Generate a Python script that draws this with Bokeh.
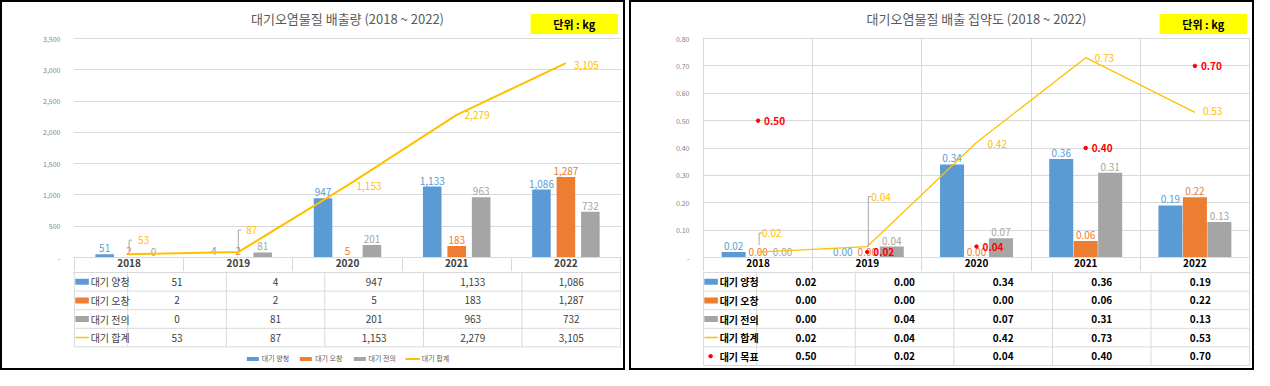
from bokeh.plotting import figure
from bokeh.layouts import column, row
from bokeh.models import (Range1d, FixedTicker, NumeralTickFormatter, ColumnDataSource,
                          Legend, LegendItem)
from bokeh.core.properties import value
from bokeh.embed import file_html
from bokeh.resources import INLINE

FONT = "Noto Sans CJK KR"

# ---------------- data ----------------
years = ["2018", "2019", "2020", "2021", "2022"]
site_names = ["대기 양청", "대기 오창", "대기 전의"]
total_name = "대기 합계"
target_name = "대기 목표"

em_yangcheong = [51, 4, 947, 1133, 1086]
em_ochang = [2, 2, 5, 183, 1287]
em_jeonui = [0, 81, 201, 963, 732]
em_total = [53, 87, 1153, 2279, 3105]
em_ticks = [0, 500, 1000, 1500, 2000, 2500, 3000, 3500]

in_yangcheong = [0.02, 0.00, 0.34, 0.36, 0.19]
in_ochang = [0.00, 0.00, 0.00, 0.06, 0.22]
in_jeonui = [0.00, 0.04, 0.07, 0.31, 0.13]
in_total = [0.02, 0.04, 0.42, 0.73, 0.53]
in_target = [0.50, 0.02, 0.04, 0.40, 0.70]
in_ticks = [0, 0.1, 0.2, 0.3, 0.4, 0.5, 0.6, 0.7, 0.8]

title_em = "대기오염물질 배출량 (2018 ~ 2022)"
title_in = "대기오염물질 배출 집약도 (2018 ~ 2022)"
unit_text = "단위 : kg"

# ---------------- style ----------------
BLUE, ORANGE, GRAY, GOLD, RED = "#5B9BD5", "#ED7D31", "#A5A5A5", "#FFC000", "#FF0000"
GRID = "#D9D9D9"
TXT = "#404040"

W = 621          # inner panel width
K = 109.2        # pixels per category
HDR_H = 32
CH_TOP = 3
RANGE_PX = 219
AX_H = 14        # header row (year labels) height
CH_H = CH_TOP + RANGE_PX + 1 + AX_H
TB_H = 366 - HDR_H - CH_H
RH = 18.6        # table row height
n_cat = len(years)
centers = [i + 0.5 for i in range(n_cat)]


def fmt_int(v):
    return "{:,}".format(v)


def fmt_2(v):
    return "{:.2f}".format(v)


def make_header(title):
    p = figure(width=W, height=HDR_H, x_range=Range1d(0, W), y_range=Range1d(0, HDR_H),
               min_border=0, x_axis_location=None, y_axis_location=None,
               output_backend="svg", toolbar_location=None)
    p.grid.visible = False
    p.outline_line_color = None
    p.text(x=[W / 2], y=[16], text=[title], text_align="center", text_baseline="middle",
           text_font=value(FONT), text_font_size="13px", text_color="#595959")
    p.quad(left=[W - 103], right=[W - 4], bottom=[0.5], top=[20.5],
           fill_color="#FFFF00", line_color=None)
    p.text(x=[W - 53.5], y=[10.5], text=[unit_text], text_align="center", text_baseline="middle",
           text_font=value(FONT), text_font_size="11px", text_font_style="bold", text_color="#000000")
    return p


def make_chart(ymax, ticks, tick_fmt, fmt, bars, total, tot_dx, tot_dy, leaders,
               bar_w, bar_dx, line_w, vbox, year_color, target=None):
    upp = ymax / RANGE_PX
    p = figure(width=W, height=CH_H, x_range=Range1d(-1 / K, n_cat + 1 / K),
               y_range=Range1d(0, ymax + upp),
               min_border_left=71, min_border_right=2, min_border_top=CH_TOP, min_border_bottom=AX_H,
               x_axis_location="below", output_backend="svg", toolbar_location=None)
    p.outline_line_color = None
    ax = p.yaxis[0]
    ax.ticker = FixedTicker(ticks=ticks)
    ax.formatter = NumeralTickFormatter(format=tick_fmt)
    ax.major_label_overrides = {0: "-"}
    ax.axis_line_color = None
    ax.major_tick_line_color = None
    ax.minor_tick_line_color = None
    ax.major_label_standoff = 7
    ax.major_label_text_font = FONT
    ax.major_label_text_font_size = "7px"
    ax.major_label_text_color = "#7F7F7F"

    xa = p.xaxis[0]
    xa.ticker = FixedTicker(ticks=centers, minor_ticks=list(range(n_cat + 1)))
    xa.major_label_overrides = {c: y for c, y in zip(centers, years)}
    xa.axis_line_color = GRID
    xa.major_tick_line_color = None
    xa.minor_tick_line_color = GRID
    xa.minor_tick_in = 0
    xa.minor_tick_out = AX_H
    xa.major_tick_out = 0
    xa.major_label_standoff = 1 - AX_H
    xa.major_label_text_font = FONT
    xa.major_label_text_font_size = "10px"
    xa.major_label_text_font_style = "bold"
    xa.major_label_text_color = year_color

    p.ygrid.grid_line_color = GRID
    if vbox:
        p.xgrid.ticker = FixedTicker(ticks=list(range(n_cat + 1)))
        p.xgrid.grid_line_color = GRID
    else:
        p.xgrid.visible = False

    cols = [BLUE, ORANGE, GRAY]
    for k, (vals, c) in enumerate(zip(bars, cols)):
        dx = (k - 1) * bar_dx
        src = ColumnDataSource(dict(x=[x + dx for x in centers], top=vals,
                                    lab=[fmt(v) for v in vals]))
        p.vbar(x="x", top="top", width=bar_w, source=src, fill_color=c, line_color=None)
        p.text(x="x", y="top", text="lab", source=src, text_align="center",
               text_baseline="alphabetic", y_offset=-6, text_color=c,
               text_font=value(FONT), text_font_size="10px")

    p.line(x=centers, y=total, line_color=GOLD, line_width=line_w)
    tsrc = ColumnDataSource(dict(x=centers, y=total, lab=[fmt(v) for v in total],
                                 dx=tot_dx, dy=tot_dy))
    p.text(x="x", y="y", text="lab", source=tsrc, x_offset="dx", y_offset="dy",
           text_align="left", text_baseline="middle", text_color=GOLD,
           text_font=value(FONT), text_font_size="10px")

    # leader lines for moved labels
    lx0, ly0, lx1, ly1 = [], [], [], []
    for idx, b_px, t_px, sx in leaders:
        xc = centers[idx] + sx / K
        yb = total[idx] + b_px * upp
        yt = total[idx] + t_px * upp
        lx0 += [xc, xc]
        ly0 += [yb, yt]
        lx1 += [xc, xc + 3 / K]
        ly1 += [yt, yt]
    if lx0:
        p.segment(x0=lx0, y0=ly0, x1=lx1, y1=ly1, line_color="#A6A6A6", line_width=1)

    if target is not None:
        gsrc = ColumnDataSource(dict(x=centers, y=target, lab=[fmt(v) for v in target]))
        p.scatter(x="x", y="y", source=gsrc, marker="circle", size=3.5, color=RED)
        p.text(x="x", y="y", text="lab", source=gsrc, x_offset=6, text_align="left",
               text_baseline="middle", text_color=RED, text_font=value(FONT),
               text_font_size="10px", text_font_style="bold")
    return p


def make_table(rows, fmt, bold, with_legend):
    x0 = -60 / K
    p = figure(width=W, height=TB_H, x_range=Range1d(x0, n_cat + 1 / K), y_range=Range1d(TB_H - 1, -1),
               min_border_left=12, min_border_right=2, min_border_top=0, min_border_bottom=0,
               x_axis_location=None, y_axis_location=None,
               output_backend="svg", toolbar_location=None)
    p.grid.visible = False
    p.outline_line_color = None
    n = len(rows)
    bottom = n * RH
    left_edge = x0 + 1 / K
    hy = [k * RH for k in range(n + 1)]
    p.segment(x0=[left_edge] * len(hy), y0=hy, x1=[n_cat] * len(hy), y1=hy, line_color=GRID)
    vx = list(range(n_cat + 1))
    p.segment(x0=vx, y0=[-1] * len(vx), x1=vx, y1=[bottom] * len(vx), line_color=GRID)
    p.segment(x0=[left_edge], y0=[0], x1=[left_edge], y1=[bottom], line_color=GRID)

    style = "bold" if bold else "normal"
    col = "#000000" if bold else TXT
    for r, (name, vals, kind, c) in enumerate(rows):
        yc = (r + 0.5) * RH
        p.text(x=centers, y=[yc] * n_cat, text=[fmt(v) for v in vals], text_align="center",
               text_baseline="middle", text_font=value(FONT), text_font_size="10px",
               text_font_style=style, text_color=col)
        if kind == "bar":
            p.quad(left=[x0 + 2 / K], right=[x0 + 17 / K], top=[yc - 3], bottom=[yc + 3],
                   fill_color=c, line_color=None)
        elif kind == "line":
            p.segment(x0=[x0 + 2 / K], y0=[yc], x1=[x0 + 17 / K], y1=[yc], line_color=c, line_width=1.5)
        else:
            p.scatter(x=[x0 + 9 / K], y=[yc], marker="circle", size=3.5, color=c)
        p.text(x=[x0 + 19 / K], y=[yc], text=[name], text_align="left", text_baseline="middle",
               text_font=value(FONT), text_font_size="10px", text_font_style=style, text_color=col)

    if with_legend:
        items = []
        for name, vals, kind, c in rows:
            if kind == "bar":
                r_ = p.vbar(x=[-50], top=[1], width=0.1, fill_color=c, line_color=None)
            else:
                r_ = p.line(x=[-50, -49], y=[1, 1], line_color=c, line_width=2)
            items.append(LegendItem(label=name, renderers=[r_]))
        leg = Legend(items=items, orientation="horizontal", location="bottom_center",
                     label_text_font=FONT, label_text_font_size="7px", label_text_color="#595959",
                     glyph_width=15, glyph_height=5, label_height=8, label_standoff=2,
                     spacing=9, padding=0, margin=5, border_line_color=None,
                     background_fill_alpha=0)
        p.add_layout(leg)
    return p


# ---------------- left panel: emissions ----------------
h1 = make_header(title_em)
c1 = make_chart(3500, em_ticks, "0,0", fmt_int, [em_yangcheong, em_ochang, em_jeonui], em_total,
                tot_dx=[9, 8, 9, 8, 8], tot_dy=[-14, -22, 1, 0, 2],
                leaders=[(0, 3, 14, 0), (1, 1, 22, 0)],
                bar_w=0.17, bar_dx=0.224, line_w=2, vbox=False, year_color=TXT)
t1 = make_table([(site_names[0], em_yangcheong, "bar", BLUE),
                 (site_names[1], em_ochang, "bar", ORANGE),
                 (site_names[2], em_jeonui, "bar", GRAY),
                 (total_name, em_total, "line", GOLD)], fmt_int, False, True)

# ---------------- right panel: intensity ----------------
h2 = make_header(title_in)
c2 = make_chart(0.8, in_ticks, "0.00", fmt_2, [in_yangcheong, in_ochang, in_jeonui], in_total,
                tot_dx=[4, 4, 11, 9, 8], tot_dy=[-19, -50, 1, 0, -1],
                leaders=[(0, 7, 19, 1), (1, 0, 50, 1)],
                bar_w=0.22, bar_dx=0.224, line_w=1.3, vbox=True, year_color="#000000",
                target=in_target)
t2 = make_table([(site_names[0], in_yangcheong, "bar", BLUE),
                 (site_names[1], in_ochang, "bar", ORANGE),
                 (site_names[2], in_jeonui, "bar", GRAY),
                 (total_name, in_total, "line", GOLD),
                 (target_name, in_target, "dot", RED)], fmt_2, True, False)

left = column(h1, c1, t1, spacing=0, styles={"border": "2px solid #000000"})
right = column(h2, c2, t2, spacing=0, styles={"border": "2px solid #000000"})
layout = row(left, right, spacing=4)

open("out.html", "w").write(file_html(layout, INLINE))
